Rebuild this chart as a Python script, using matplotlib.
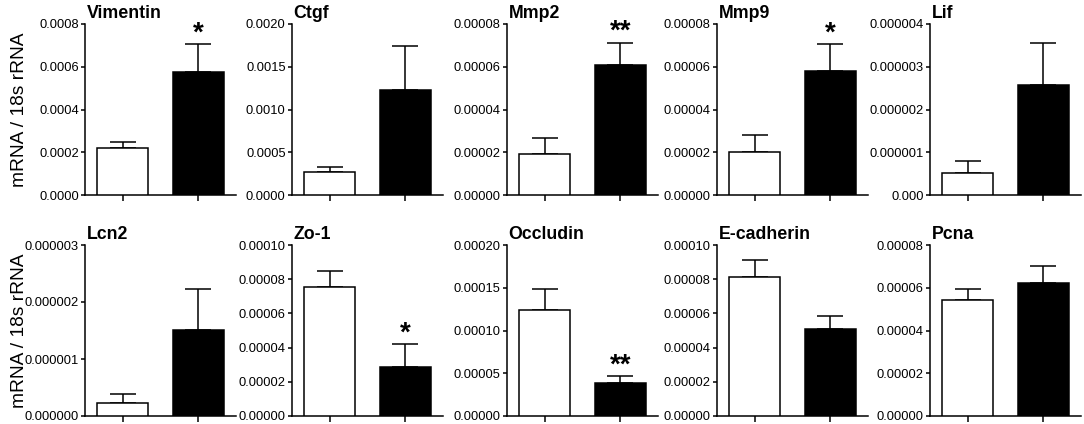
import matplotlib
matplotlib.use('Agg')
import matplotlib.pyplot as plt

plt.rcParams['font.family'] = ['Liberation Sans', 'DejaVu Sans']

genes = ["Vimentin", "Ctgf", "Mmp2", "Mmp9", "Lif",
         "Lcn2", "Zo-1", "Occludin", "E-cadherin", "Pcna"]
control_mean = [0.000218, 0.000273, 1.90e-5, 2.03e-5, 5.2e-7,
                2.29e-7, 7.56e-5, 1.238e-4, 8.14e-5, 5.41e-5]
control_sem = [0.000032, 0.000058, 0.78e-5, 0.78e-5, 2.75e-7,
               1.5e-7, 0.94e-5, 0.252e-4, 0.96e-5, 0.54e-5]
treated_mean = [0.000574, 0.001224, 6.08e-5, 5.82e-5, 2.57e-6,
                1.506e-6, 2.85e-5, 3.9e-5, 5.1e-5, 6.22e-5]
treated_sem = [0.000132, 0.000519, 1.05e-5, 1.24e-5, 0.98e-6,
               0.714e-6, 1.35e-5, 0.75e-5, 0.72e-5, 0.81e-5]
significance = ["*", "", "**", "*", "", "", "*", "**", "", ""]

y_ticks = [
    [0.0, 0.0002, 0.0004, 0.0006, 0.0008],
    [0.0, 0.0005, 0.0010, 0.0015, 0.0020],
    [0.0, 2e-5, 4e-5, 6e-5, 8e-5],
    [0.0, 2e-5, 4e-5, 6e-5, 8e-5],
    [0.0, 1e-6, 2e-6, 3e-6, 4e-6],
    [0.0, 1e-6, 2e-6, 3e-6],
    [0.0, 2e-5, 4e-5, 6e-5, 8e-5, 1e-4],
    [0.0, 5e-5, 1e-4, 1.5e-4, 2e-4],
    [0.0, 2e-5, 4e-5, 6e-5, 8e-5, 1e-4],
    [0.0, 2e-5, 4e-5, 6e-5, 8e-5],
]
y_tick_labels = [
    ["0.0000", "0.0002", "0.0004", "0.0006", "0.0008"],
    ["0.0000", "0.0005", "0.0010", "0.0015", "0.0020"],
    ["0.00000", "0.00002", "0.00004", "0.00006", "0.00008"],
    ["0.00000", "0.00002", "0.00004", "0.00006", "0.00008"],
    ["0.000", "0.000001", "0.000002", "0.000003", "0.000004"],
    ["0.000000", "0.000001", "0.000002", "0.000003"],
    ["0.00000", "0.00002", "0.00004", "0.00006", "0.00008", "0.00010"],
    ["0.00000", "0.00005", "0.00010", "0.00015", "0.00020"],
    ["0.00000", "0.00002", "0.00004", "0.00006", "0.00008", "0.00010"],
    ["0.00000", "0.00002", "0.00004", "0.00006", "0.00008"],
]
y_label = "mRNA / 18s rRNA"

W, H = 1084, 424
fig = plt.figure(figsize=(W / 100, H / 100), dpi=100)

col_left = [85, 292, 507, 717, 930]
ax_w = 151
rows = [(24, 195), (245, 416)]

lw = 1.1
for i, g in enumerate(genes):
    r, c = divmod(i, 5)
    top, bot = rows[r]
    ax = fig.add_axes([col_left[c] / W, 1 - bot / H, ax_w / W, (bot - top) / H])
    xs = [0, 1]
    means = [control_mean[i], treated_mean[i]]
    sems = [control_sem[i], treated_sem[i]]
    ax.errorbar(xs, means, yerr=[[0, 0], sems], fmt='none', ecolor='black',
                elinewidth=lw, capsize=9.5, capthick=lw, zorder=2)
    ax.bar(xs, means, width=0.67, color=['white', 'black'], edgecolor='black',
           linewidth=lw, zorder=3)
    ax.set_xlim(-0.5, 1.5)
    ax.set_ylim(y_ticks[i][0], y_ticks[i][-1])
    ax.set_yticks(y_ticks[i])
    ax.set_yticklabels(y_tick_labels[i])
    ax.set_xticks(xs)
    ax.set_xticklabels(['', ''])
    for s in ['top', 'right']:
        ax.spines[s].set_visible(False)
    for s in ['left', 'bottom']:
        ax.spines[s].set_linewidth(lw)
    ax.tick_params(axis='y', direction='out', length=3, width=lw, pad=1.5,
                   labelsize=9.3)
    ax.tick_params(axis='x', direction='out', length=4, width=lw)
    ax.annotate(g, xy=(0, 1), xycoords='axes fraction', xytext=(1, 4.3),
                textcoords='offset points', ha='left', va='baseline',
                fontsize=12.8, fontweight='bold', annotation_clip=False)
    if significance[i]:
        ax.annotate(significance[i], xy=(1, treated_mean[i] + treated_sem[i]),
                    xytext=(0, 2.5), textcoords='offset points',
                    ha='center', va='baseline', fontsize=20,
                    fontweight='bold', annotation_clip=False)

for top, bot in rows:
    fig.text(20 / W, 1 - (top + bot) / 2 / H, y_label, rotation=90,
             ha='center', va='center', fontsize=13.8)

fig.savefig('out.png', dpi=100)
